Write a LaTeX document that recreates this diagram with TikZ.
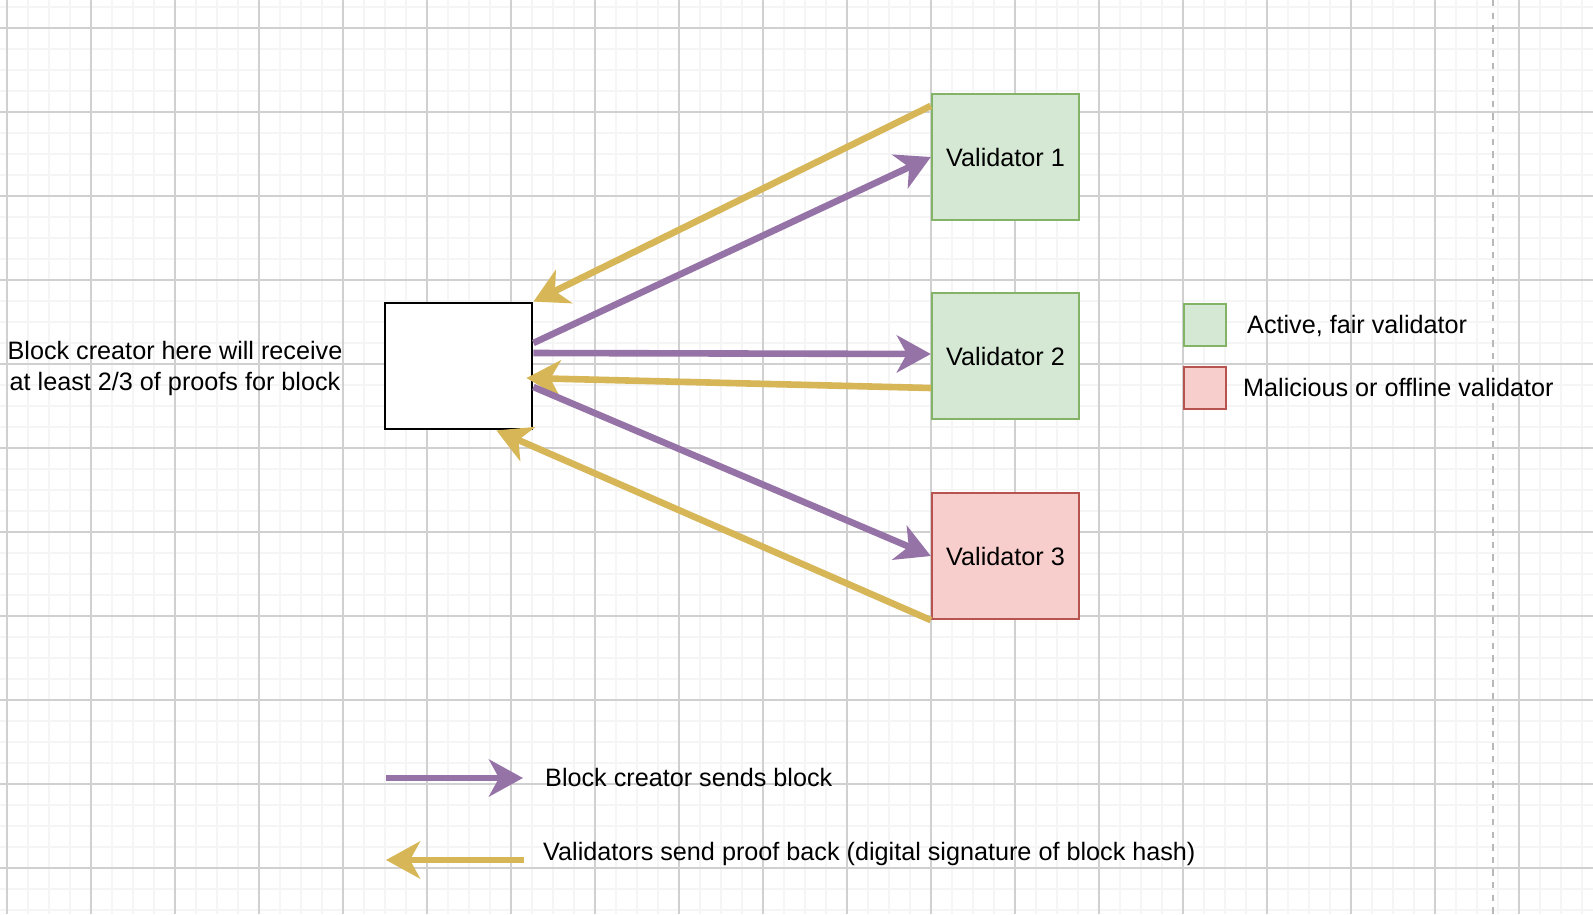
\documentclass[tikz,border=0pt]{standalone}
\usepackage{fontspec}
\setmainfont{Liberation Sans}
\usetikzlibrary{arrows.meta}
\definecolor{dpurple}{HTML}{9673A6}
\definecolor{dyellow}{HTML}{D6B656}
\definecolor{dgreenf}{HTML}{D5E8D4}
\definecolor{dgreens}{HTML}{82B366}
\definecolor{dredf}{HTML}{F8CECC}
\definecolor{dreds}{HTML}{B85450}
\definecolor{gridminor}{HTML}{F5F5F5}
\definecolor{gridmajor}{HTML}{D0D0D0}
\definecolor{dashgray}{HTML}{B8B8B8}
\tikzset{
  lbl/.style={font=\fontsize{25.2}{30.2}\selectfont, inner sep=0pt},
  validbox/.style={draw=dgreens, fill=dgreenf, line width=2.3pt, minimum width=147pt, minimum height=126pt, inner sep=0pt, font=\fontsize{25.2}{30.2}\selectfont},
  badbox/.style={validbox, draw=dreds, fill=dredf},
  creatorbox/.style={draw=black, fill=white, line width=2.8pt, minimum width=147pt, minimum height=126pt, inner sep=0pt},
  legbox/.style={line width=2.3pt, minimum width=42pt, minimum height=42pt, inner sep=0pt},
  sendarrow/.style={draw=dpurple, line width=6.6pt, -{Stealth[length=34pt, width=37pt, inset=10pt, fill=dpurple]}},
  prooffarrow/.style={draw=dyellow, line width=6.6pt, -{Stealth[length=34pt, width=37pt, inset=10pt, fill=dyellow]}},
}
\begin{document}
\begin{tikzpicture}[x=1pt, y=-1pt]
\useasboundingbox (0,0) rectangle (1593,914);
\fill[white] (0,0) rectangle (1593,914);
% minor grid
\foreach \i in {0,...,75} {
  \draw[gridminor, line width=1.6pt] ({7+21*\i},0) -- ({7+21*\i},914);
}
\foreach \j in {0,...,43} {
  \draw[gridminor, line width=1.6pt] (0,{7+21*\j}) -- (1593,{7+21*\j});
}
% major grid
\foreach \i in {0,...,18} {
  \draw[gridmajor, line width=1.1pt] ({7+84*\i},0) -- ({7+84*\i},914);
}
\foreach \j in {0,...,10} {
  \draw[gridmajor, line width=1.1pt] (0,{28+84*\j}) -- (1593,{28+84*\j});
}
% dashed page boundary
\draw[dashgray, line width=2.1pt, dash pattern=on 6.3pt off 6.3pt] (1493,0) -- (1493,914);

% boxes
\node[creatorbox] (block) at (458.5,366) {};
\node[validbox] (v1) at (1005.5,157) {Validator 1};
\node[validbox] (v2) at (1005.5,356) {Validator 2};
\node[badbox] (v3) at (1005.5,556) {Validator 3};

% left caption
\node[lbl, align=center] (cap) at (175,368.5) {Block creator here will receive\\at least 2/3 of proofs for block};

% connectors
\coordinate (y1s) at ([yshift=-13pt]v1.north west);
\coordinate (p1s) at ([yshift=23pt]block.east);
\coordinate (p2s) at ([yshift=13pt]block.east);
\coordinate (p2e) at ([yshift=2pt]v2.west);
\coordinate (y2s) at ([yshift=-32pt]v2.west);
\coordinate (y2e) at ([xshift=-7pt, yshift=-12pt]block.east);
\coordinate (p3s) at ([yshift=-21pt]block.east);
\coordinate (y3e) at ([xshift=-37pt]block.south east);

\draw[prooffarrow] (y1s) -- (block.north east);
\draw[sendarrow] (p1s) -- (v1.west);
\draw[sendarrow] (p2s) -- (p2e);
\draw[prooffarrow] (y2s) -- (y2e);
\draw[sendarrow] (p3s) -- (v3.west);
\draw[prooffarrow] (v3.south west) -- (y3e);

% legend: validators
\node[legbox, draw=dgreens, fill=dgreenf] (lg) at (1205,325) {};
\node[legbox, draw=dreds, fill=dredf] (lr) at (1205,388) {};
\node[lbl, anchor=base west] (lgt) at (1247,333) {Active, fair validator};
\node[lbl, anchor=base west] (lrt) at (1243,396) {Malicious or offline validator};

% legend: arrows
\coordinate (la1s) at (386,778);
\coordinate (la1e) at (523,778);
\coordinate (la2s) at (524,860);
\coordinate (la2e) at (386,860);
\draw[sendarrow] (la1s) -- (la1e);
\draw[prooffarrow] (la2s) -- (la2e);
\node[lbl, anchor=base west] (la1t) at (545,786) {Block creator sends block};
\node[lbl, anchor=base west] (la2t) at (543,860) {Validators send proof back (digital signature of block hash)};
\end{tikzpicture}
\end{document}
